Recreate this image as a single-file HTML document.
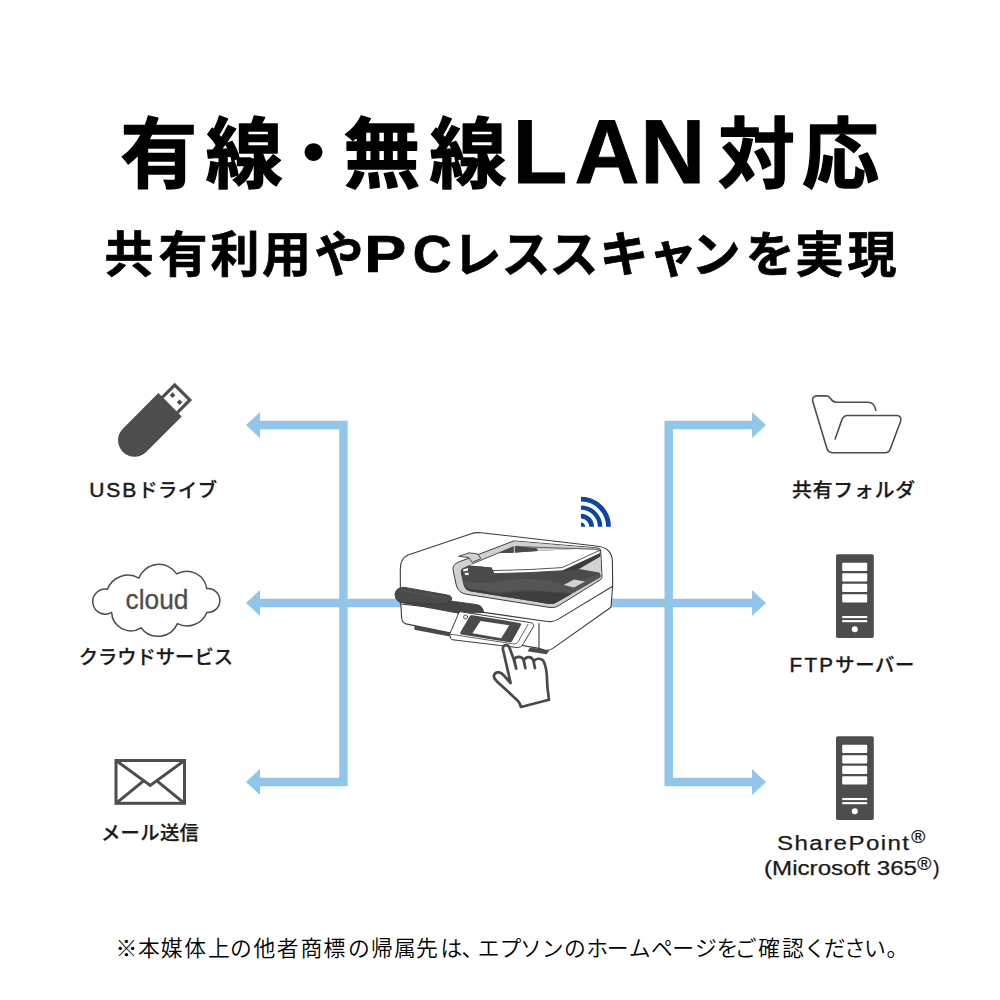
<!DOCTYPE html>
<html lang="ja">
<head>
<meta charset="utf-8">
<title>有線・無線LAN対応</title>
<style>
  html, body { margin: 0; padding: 0; background: #ffffff; }
  body { width: 1000px; height: 1000px; overflow: hidden; }
  svg { display: block; }
  text { font-family: "Liberation Sans", "Noto Sans CJK JP", sans-serif; }
  .jp { font-family: "Noto Sans CJK JP", "Liberation Sans", sans-serif; }
  .lat { font-family: "Liberation Sans", "Noto Sans CJK JP", sans-serif; }
  .label { font-size: 19.3px; font-weight: 500; fill: #1a1a1a; stroke: #1a1a1a; stroke-width: 0.25px; }
</style>
</head>
<body>
<svg width="1000" height="1000" viewBox="0 0 1000 1000">
  <rect width="1000" height="1000" fill="#ffffff"/>

  <!-- ===== headline ===== -->
  <g id="headline" fill="#000000" stroke="#000000" stroke-linejoin="round">
    <text class="jp" y="181.8" font-size="77" font-weight="700" stroke-width="1.3"><tspan x="120.3 205.7">有線</tspan><tspan x="275" font-weight="500" stroke-width="0">・</tspan><tspan x="343.2 429.5">無線</tspan><tspan class="lat" font-size="90" stroke-width="0.8" dy="1.6" x="512.6 574.4 640.2">LAN</tspan><tspan dy="-1.6" x="718 802">対応</tspan></text>
    <text class="jp" y="272" font-size="49" font-weight="700" stroke-width="0.7"><tspan x="104.5 158.5 210.5 262 314.5">共有利用や</tspan><tspan class="lat" font-size="51" x="364.2" textLength="42" lengthAdjust="spacingAndGlyphs">P</tspan><tspan class="lat" font-size="51" x="412.8" textLength="39" lengthAdjust="spacingAndGlyphs">C</tspan><tspan x="452.5 501.5 549.5 599.5 648.5 691.5 745.8 795 847.5">レススキャンを実現</tspan></text>
  </g>

  <!-- ===== connection lines ===== -->
  <g id="lines" fill="none" stroke="#92c5ea" stroke-width="8.4">
    <path d="M259,425 H343.4 V782 H259"/>
    <path d="M259,603 H402"/>
    <path d="M753,425 H668.7 V782 H753"/>
    <path d="M610,603 H753"/>
  </g>
  <g id="arrowheads" fill="#92c5ea">
    <path d="M246,425 L260,412 V438 Z"/>
    <path d="M246,603 L260,590 V616 Z"/>
    <path d="M246,782 L260,769 V795 Z"/>
    <path d="M766,425 L752,412 V438 Z"/>
    <path d="M766,603 L752,590 V616 Z"/>
    <path d="M766,782 L752,769 V795 Z"/>
  </g>

  <!-- ===== USB drive ===== -->
  <g id="usb" transform="translate(134.5,440.3) rotate(-45)">
    <path d="M0,-16.5 H50.3 V16.5 H0 A16.5,16.5 0 0 1 0,-16.5 Z" fill="#4d4d4d"/>
    <rect x="48" y="-12.25" width="21.2" height="24.5" fill="#4d4d4d"/>
    <rect x="50.3" y="-9.1" width="15.7" height="18.2" fill="#ffffff"/>
    <rect x="56.8" y="-7" width="4" height="4" fill="#4d4d4d"/>
    <rect x="56.8" y="3" width="4" height="4" fill="#4d4d4d"/>
  </g>
  <text class="label" x="153.3" y="496.5" text-anchor="middle"><tspan class="lat" font-size="21" letter-spacing="2" stroke="#1a1a1a" stroke-width="0.5">USB</tspan><tspan class="jp" letter-spacing="0.5">ドライブ</tspan></text>

  <!-- ===== cloud ===== -->
  <g id="cloud">
    <path d="M107.4,589.3 A22,22 0 0 1 138.9,578.1 A21.4,21.4 0 0 1 176.7,573.9 A20.5,20.5 0 0 1 206.8,588.6 A11.95,11.95 0 1 1 206.8,612.4 A21.2,21.2 0 0 1 177.4,623.6 A21.2,21.2 0 0 1 141,627.8 A19.2,19.2 0 0 1 111.6,612.4 A12.5,12.5 0 1 1 107.4,589.3 Z" fill="#ffffff" stroke="#4d4d4d" stroke-width="1.5" stroke-linejoin="round"/>
    <text class="lat" x="157" y="609.3" font-size="27.5" fill="#4d4d4d" stroke="#4d4d4d" stroke-width="0.3" text-anchor="middle" textLength="63" lengthAdjust="spacingAndGlyphs">cloud</text>
  </g>
  <text class="label jp" x="155.85" y="664" text-anchor="middle">クラウドサービス</text>

  <!-- ===== mail ===== -->
  <g id="mail" fill="none" stroke="#4d4d4d" stroke-width="3" stroke-linejoin="miter">
    <rect x="116" y="760.5" width="68.5" height="42.8"/>
    <path d="M116,760.5 L150.25,785.5 L184.5,760.5"/>
    <path d="M116,803.3 L143.6,780.8"/>
    <path d="M184.5,803.3 L156.9,780.8"/>
  </g>
  <text class="label jp" x="150.1" y="840" text-anchor="middle" letter-spacing="0.4">メール送信</text>

  <!-- ===== shared folder ===== -->
  <g id="folder" fill="none" stroke="#4d4d4d" stroke-width="1.6" stroke-linecap="round" stroke-linejoin="round">
    <path d="M875.9,410.3 C875,405 872.5,402.2 868,402.2 L836,402.2 C833,402.2 832,401 830.5,398.5 C829.5,397 828.5,395.9 826.5,395.9 L817.2,395.9 C813.5,395.9 811.8,398 812.8,401.5 L826.8,448 C827.8,451.5 829.5,452.8 833,452.8 L885,452.8 C888,452.8 889.5,451.5 890.5,448.5 L900.5,421.5 C901.8,418 900,415.5 896.5,415.5 L847.5,415.5 C844.5,415.5 843,417 842,419.5 L835.1,439"/>
  </g>
  <text class="label jp" x="854" y="496.6" style="font-size:19.8px" text-anchor="middle" letter-spacing="0.9">共有フォルダ</text>

  <!-- ===== servers ===== -->
  <defs>
    <g id="server-icon">
      <rect x="836" y="554.2" width="37.8" height="83.8" rx="1.8" fill="#4d4d4d"/>
      <g fill="#ffffff">
        <rect x="842.2" y="562.8" width="25" height="8.1" rx="1"/>
        <rect x="842.2" y="573.3" width="25" height="8.1" rx="1"/>
        <rect x="842.2" y="583.8" width="25" height="8.1" rx="1"/>
        <rect x="842.2" y="594.3" width="25" height="8.1" rx="1"/>
        <rect x="842.2" y="616" width="25" height="2.1"/>
        <rect x="842.2" y="620.1" width="25" height="2.1"/>
        <circle cx="854.8" cy="629.2" r="3"/>
      </g>
    </g>
  </defs>
  <use href="#server-icon"/>
  <text class="label" x="852.25" y="671.5" text-anchor="middle"><tspan class="lat" font-size="20.5" letter-spacing="2.3" stroke="#1a1a1a" stroke-width="0.5">FTP</tspan><tspan class="jp" letter-spacing="0.7">サーバー</tspan></text>
  <use href="#server-icon" transform="translate(0,182)"/>
  <text class="label lat" style="font-size:20px" y="850.4"><tspan x="777" letter-spacing="1.2" textLength="133.5" lengthAdjust="spacingAndGlyphs">SharePoint</tspan><tspan font-size="19" x="911.2" dy="-7.3" stroke-width="0.3">®</tspan></text>
  <text class="label lat" style="font-size:19.6px" y="875"><tspan x="764" textLength="153" lengthAdjust="spacingAndGlyphs">(Microsoft 365</tspan><tspan font-size="19" x="917.2" dy="-5" stroke-width="0.3">®</tspan><tspan dy="5" x="933">)</tspan></text>

  <!-- ===== wifi mark ===== -->
  <g id="wifi" fill="none" stroke="#0c48a0">
    <path d="M581,522.5 A4.2,4.2 0 0 1 585.2,526.7 L581,526.7 Z" fill="#0c48a0" stroke="none"/>
    <path d="M581,516.1 A10.6,10.6 0 0 1 591.6,526.7" stroke-width="4.8"/>
    <path d="M581,507.6 A19.1,19.1 0 0 1 600.1,526.7" stroke-width="4.4"/>
    <path d="M581,499.2 A27.5,27.5 0 0 1 608.5,526.7" stroke-width="4.8"/>
  </g>

  <!-- ===== scanner ===== -->
  <g id="scanner" stroke-linejoin="round" stroke-linecap="round">
    <!-- feet -->
    <path d="M414.4,625.8 L414.4,629.8 L449.8,636.6 L449.8,632.4 Z" fill="#4a4a4a"/>
    <path d="M530,647.5 L549.5,650.6 L546.5,654.2 L527.5,651.3 Z" fill="#4a4a4a"/>
    <!-- base -->
    <path d="M400.6,600 L401.6,618 C402,621.5 403,623 406,623.9 L449.8,632.8 L539,648.4 L545,650.2 C548,650.6 550,650.2 552.5,648.6 L611,607.2 L612.6,586 L560,600 Z" fill="#ffffff" stroke="#3c3c3c" stroke-width="1.1"/>
    <path d="M539,623.5 L539,648.4" fill="none" stroke="#3c3c3c" stroke-width="1.1"/>
    <!-- lid -->
    <path d="M400.4,604 L400.3,569 C400.3,561.5 402.5,557.5 408,555 L470.5,533.9 C474,532.7 477.5,532.4 481,532.7 L598,546.2 C607,547.4 612,551.5 612.4,561 L612.7,586.3 L557.5,619.6 C554.5,621.4 551.5,622 547.5,621.5 L483.4,612.4 Z" fill="#ffffff" stroke="#3c3c3c" stroke-width="1.1"/>
    <!-- ADF opening : grey frame -->
    <path d="M514,541 L598,548 C600,548.3 600.6,549 600.7,551 L602,576.5 C602,578 601.5,579 600,580 L558,606 C555.5,607.4 553,607.8 550,607.5 L466,594.2 C461,593.3 458,590.5 456.5,586 L453.2,571 C452.4,566.5 454,564 458,562.3 Z" fill="#d0d0d0" stroke="#3c3c3c" stroke-width="1"/>
    <path d="M459,556.2 L469,552.8 L477.8,554 L481,558.6 L472.2,562.4 L468.8,557.8 Z" fill="#d0d0d0" stroke="#3c3c3c" stroke-width="0.9"/>
    <!-- dark interior -->
    <path d="M514,546.5 L594,549.3 L599.3,551 L600.6,577 L556,602.8 C554,603.9 552,604.2 549,603.9 L470,591.3 C466.5,590.5 464.5,588.5 463.5,585 L461,574 C460.4,570.5 461,569 463.5,567.8 L472,564 Z" fill="#4a4a4a"/>
    <!-- lighter tray surfaces -->
    <path d="M463.5,581 C478,584.5 490,583.5 501,581 C512,578.6 528,578.6 545,580 L560,583 L566,587.5 L556,591 L535,590.2 C522,589.6 512,591 500,592.4 L469,589 Z" fill="#555555"/>
    <path d="M566,587.5 L598.5,573.5 L600.4,577.2 L573,593 L548,591.6 Z" fill="#555555"/>
    <path d="M466,588.2 L500,594 C512,592.6 523,590.8 538,591.6 L572,593.8 L556,602.8 C554,603.9 552,604.2 549,603.9 L470,591.3 Z" fill="#3e3e3e"/>
    <!-- far wall -->
    <path d="M514.3,541.3 L597.5,548.3 L594,549.4 L575,549 L537.5,551 L537,548.5 L515,546.2 Z" fill="#d0d0d0"/>
    <!-- paper -->
    <path d="M472,564 L499,553 L513.5,552.8 L537.5,551 L575,549 L594,549.2 L600,550.2 L562.2,567.6 L530,569.5 L493,570.6 L491.5,567.5 L469,565.5 Z" fill="#ffffff"/>
    <path d="M493,570.6 L530,569.5 L562.2,567.6 L600,550.2 L600.2,553.4 L563,570.7 L530,572.6 L494,573.6 Z" fill="#ffffff" stroke="#3c3c3c" stroke-width="0.8"/>
    <path d="M472,564 L514,546.5 L594,549.2 L600,550.2" fill="none" stroke="#3c3c3c" stroke-width="0.8"/>
    <!-- dark pieces at far side -->
    <path d="M515,546.2 L537,548.5 L537.5,551 L515,552.6 Z" fill="#4a4a4a"/>
    <path d="M499,553 L513.4,547 L513.4,552.8 Z" fill="#4a4a4a"/>
    <path d="M514.3,546 L514.3,553" fill="none" stroke="#ffffff" stroke-width="0.8"/>
    <!-- paper guide block -->
    <path d="M469,565.5 L491.5,567.5 L494,574.6 L469,575.2 Z" fill="#4a4a4a"/>
    <path d="M463,569.5 L468,568 L468,570.6 L463.5,571.6 Z M464.5,573 L468.5,572.4 L468.5,575.2 L465,574.8 Z" fill="#ffffff"/>
    <!-- input tray edge + right wall -->
    <path d="M600.2,553.4 L600.4,556.6 L579,569 L564,571.6 L563,570.7 Z" fill="#3c3c3c"/>
    <path d="M579,569 L600.4,556.6 L601.4,575 L599,572.6 Z" fill="#d2d2d2"/>
    <path d="M574,579.5 L585,581.5 L574,587.5 L563.5,585 Z" fill="#d2d2d2"/>
    <!-- output tray handle -->
    <path d="M401.2,602.5 L458.2,613.2 L483.6,612.6 C483.4,609 481.5,605.6 477.4,604.7 L451,601 Z" fill="#454545" stroke="#3a3a3a" stroke-width="0.8"/>
    <path d="M395.2,594.4 C395.2,591 397.5,587.6 403.6,587.2 L447.4,595 C450.5,595.6 452,597 451.6,599 C451.2,601.5 449,603 445,603.6 L436.6,604.4 L401.2,602.4 C397,601.6 395.2,598.5 395.2,594.4 Z" fill="#4a4a4a" stroke="#3a3a3a" stroke-width="0.9"/>
    <path d="M401,590.2 L444,597.8 C446.5,598.4 446.5,600.6 444,601" fill="none" stroke="#5e5e5e" stroke-width="0.7"/>
    <!-- control panel -->
    <path d="M459.8,611.6 L530.5,622.6 C533.5,623.2 534.3,624.5 533.2,627 L523.5,643.5 C521.5,646.8 519.5,647.9 516,647.4 L453,639.8 C451,639.5 450.4,638.6 450.3,637 L449.9,634.1 Z" fill="#ffffff" stroke="#3c3c3c" stroke-width="1"/>
    <path d="M449.9,634.1 L512.5,643.8 C515.5,644.2 517,643.6 518.5,641.2 L528,624.4" fill="none" stroke="#3c3c3c" stroke-width="0.8"/>
    <path d="M472.5,615.3 L519.5,622.9 C521.2,623.2 521.6,624 520.8,625.5 L512.2,641 C511.4,642.3 510.6,642.6 509,642.3 L461.5,634.5 C460,634.2 459.7,633.5 460.5,632 L469.8,616.3 C470.5,615.3 471.2,615.1 472.5,615.3 Z" fill="#4a4a4a"/>
    <path d="M480.5,621 L509.3,625.2 L501.2,638.3 L472.4,633.3 Z" fill="#ffffff"/>
    <circle cx="465.6" cy="617" r="2" fill="#ffffff" stroke="#3c3c3c" stroke-width="0.9"/>
    <!-- hand -->
    <path d="M510.6,683 L503,649.6 C502.4,646.6 504,645.4 505.8,645.2 C507.8,645 509,646 509.6,648 L513.4,658.2 L516.2,668.6 L514.2,659.4 C516,656.4 521.5,655.6 523.4,659.8 L525.4,668.2 L523.8,660.6 C525.5,656.2 531.5,655.8 533.4,660.6 L535,668.2 L533.6,661.6 C536,657.4 542.5,658 544.2,662.4 C546,667 546.6,671 546.8,675 L547.4,687 L549,699.8 L521,707 C520.2,704.5 519.5,702.6 518,701 L509,692.6 L497,681.4 C494.8,679.2 493.4,677.4 494,675.4 C494.8,672.8 497,672 499,672.4 C501,672.8 502.5,674 503.4,675 Z" fill="#ffffff" stroke="#4a4a4a" stroke-width="2.7"/>
  </g>

  <!-- ===== footnote ===== -->
  <text class="jp" y="956" font-size="21.8" font-weight="350" fill="#000000" x="115.4 138.0 160.8 184.2 208.0 230.0 253.5 276.8 300.5 323.4 348.0 371.0 394.0 416.0 440.5 461.6 477.8 499.6 520.0 541.8 564.0 586.2 606.8 628.8 651.0 672.2 695.0 716.6 734.8 758.1 782.0 803.9 823.7 844.1 864.0 886.6">※本媒体上の他者商標の帰属先は、エプソンのホームページをご確認ください。</text>
</svg>
</body>
</html>
